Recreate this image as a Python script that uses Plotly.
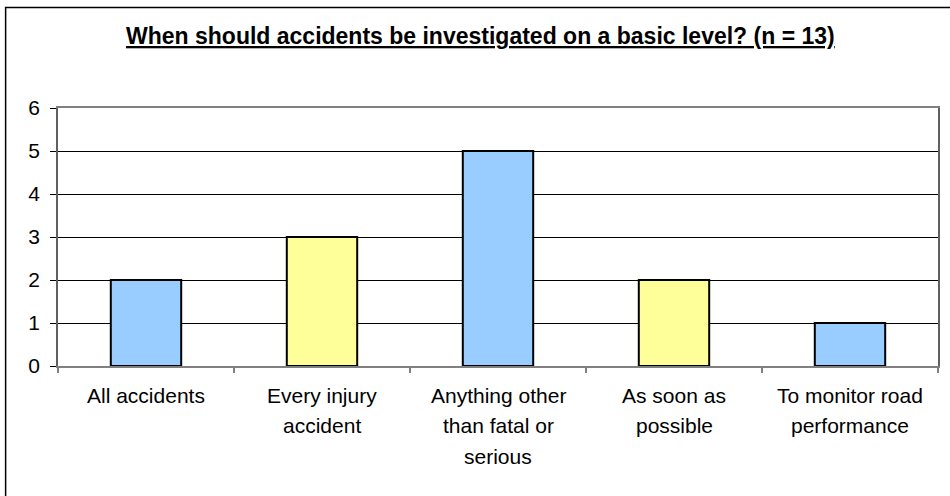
import plotly.graph_objects as go

# Survey answers and counts
categories = [
    "All accidents",
    "Every injury accident",
    "Anything other than fatal or serious",
    "As soon as possible",
    "To monitor road performance",
]
label_lines = [
    ["All accidents"],
    ["Every injury", "accident"],
    ["Anything other", "than fatal or", "serious"],
    ["As soon as", "possible"],
    ["To monitor road", "performance"],
]
counts = [2, 3, 5, 2, 1]
bar_colors = ["#99CCFF", "#FFFF99", "#99CCFF", "#FFFF99", "#99CCFF"]
y_ticks = [0, 1, 2, 3, 4, 5, 6]
title_text = "When should accidents be investigated on a basic level? (n = 13)"

W, H = 950, 496
ML, MR, MT, MB = 58, 10, 108, 130
plot_w = W - ML - MR
plot_h = H - MT - MB

def px_to_paper_x(px):
    return (px - ML) / plot_w

def px_to_paper_y(py):
    return (H - MB - py) / plot_h

FONT = "Liberation Sans, Arial, sans-serif"
positions = list(range(len(categories)))

fig = go.Figure(
    go.Bar(
        x=positions,
        y=counts,
        width=0.4,
        marker=dict(color=bar_colors, line=dict(color="black", width=2)),
        hovertext=categories,
    )
)

# Category labels, one annotation per line for wider line spacing
annotations = []
for i, lines in enumerate(label_lines):
    for j, line in enumerate(lines):
        annotations.append(dict(
            x=positions[i], y=0, xref="x", yref="y",
            text=line, showarrow=False,
            xanchor="center", yanchor="middle",
            yshift=-(29 + 30.5 * j),
            font=dict(family=FONT, size=21, color="black"),
        ))

annotations.append(dict(
    x=px_to_paper_x(481.5), y=px_to_paper_y(36), xref="paper", yref="paper",
    text="<b><u>" + title_text + "</u></b>", showarrow=False,
    xanchor="center", yanchor="middle",
    font=dict(family=FONT, size=23, color="black"),
))

fig.update_layout(
    width=W, height=H, autosize=False,
    margin=dict(l=ML, r=MR, t=MT, b=MB, pad=0),
    paper_bgcolor="white", plot_bgcolor="white",
    showlegend=False,
    annotations=annotations,
    shapes=[dict(
        type="rect", xref="paper", yref="paper",
        x0=px_to_paper_x(5.5), x1=px_to_paper_x(1000),
        y0=px_to_paper_y(600), y1=px_to_paper_y(7.5),
        line=dict(color="black", width=1.5), fillcolor="rgba(0,0,0,0)",
        layer="above",
    )],
    xaxis=dict(
        range=[-0.5, len(categories) - 0.5],
        tickvals=[p - 0.5 for p in positions] + [len(categories) - 0.5],
        showticklabels=False,
        ticks="outside", ticklen=5, tickcolor="#808080", tickwidth=1.5,
        showline=True, linecolor="#808080", linewidth=1.5, mirror=True,
        showgrid=False, zeroline=False, fixedrange=True,
    ),
    yaxis=dict(
        range=[0, 6],
        tickvals=y_ticks,
        ticktext=[str(v) for v in y_ticks],
        ticks="outside", ticklen=6, tickcolor="black", tickwidth=1,
        showline=True, linecolor="#606060", linewidth=1.5, mirror=True,
        showgrid=True, gridcolor="black", gridwidth=1,
        zeroline=False, fixedrange=True,
        tickfont=dict(family=FONT, size=21, color="black"),
        ticklabelstandoff=6,
    ),
)

fig.write_html("out.html")
